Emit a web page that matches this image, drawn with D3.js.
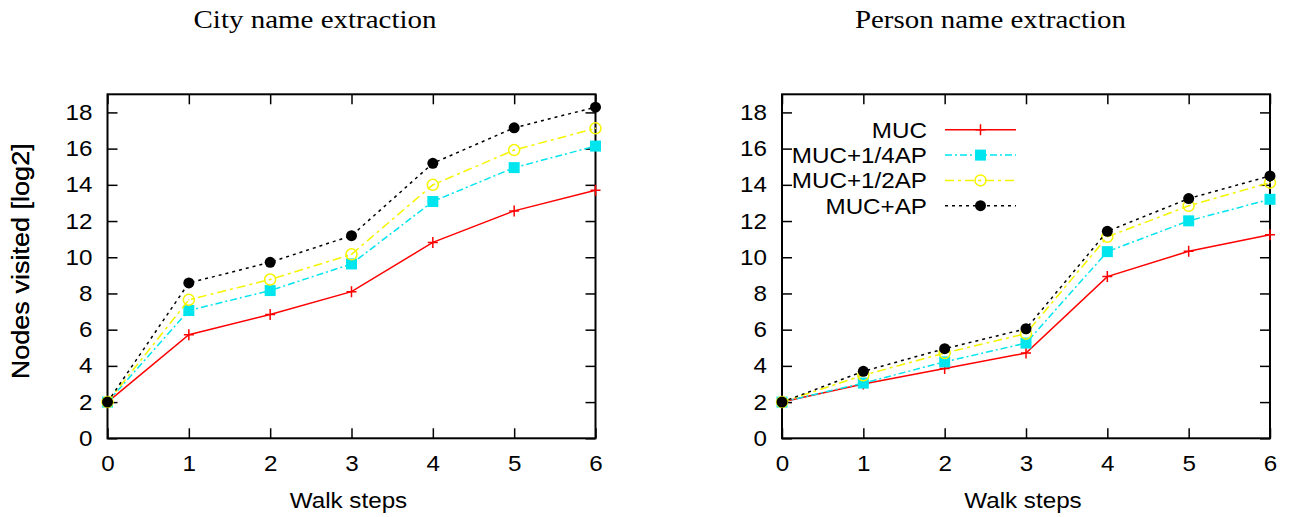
<!DOCTYPE html>
<html>
<head>
<meta charset="utf-8">
<script src="https://cdn.jsdelivr.net/npm/d3@7"></script>
<style>
  body { margin: 0; background: #fff; }
  text { fill: #000; }
</style>
</head>
<body>
<div id="chart"></div>
<script>
// DATA
const steps = [0, 1, 2, 3, 4, 5, 6];
const yTicks = [0, 2, 4, 6, 8, 10, 12, 14, 16, 18];
const seriesNames = ["MUC", "MUC+1/4AP", "MUC+1/2AP", "MUC+AP"];

const cityMUC = [2, 5.72, 6.84, 8.1, 10.82, 12.56, 13.7];
const cityQuarterAP = [2, 7.06, 8.16, 9.63, 13.08, 14.95, 16.14];
const cityHalfAP = [2, 7.65, 8.77, 10.16, 14.0, 15.92, 17.12];
const cityFullAP = [2, 8.58, 9.72, 11.19, 15.19, 17.15, 18.29];

const personMUC = [2, 3.0, 3.85, 4.71, 8.93, 10.33, 11.24];
const personQuarterAP = [2, 3.05, 4.22, 5.26, 10.31, 12.01, 13.2];
const personHalfAP = [2, 3.48, 4.71, 5.78, 11.13, 12.84, 14.12];
const personFullAP = [2, 3.7, 4.95, 6.05, 11.43, 13.24, 14.49];

// STYLES PER SERIES
const styles = [
  { color: "#ff0000", dash: null, marker: "plus" },
  { color: "#00e5ee", dash: "7,3,2,3", marker: "square" },
  { color: "#f5f500", dash: "9,4,3,4", marker: "circle" },
  { color: "#000000", dash: "3,4", marker: "dot" }
];

const svgWidth = 1289;
const svgHeight = 517;
const width = 488;
const height = 344;
const font = "'Liberation Sans', Arial, sans-serif";
const stretch = 1.1; // sans text in the original is a bit wide

const svg = d3.select("#chart")
  .append("svg")
  .attr("width", svgWidth)
  .attr("height", svgHeight);

/**
 * WIDEN SANS TEXT (like the original's rendering)
 */
const widen = sel => {
  sel.each(function () {
    const len = this.getComputedTextLength();
    if (len > 0) {
      d3.select(this)
        .attr("textLength", len * stretch)
        .attr("lengthAdjust", "spacingAndGlyphs");
    }
  });
};

/**
 * DRAW A MARKER AT (x, y)
 */
const addMarker = (g, type, x, y, color) => {
  if (type === "plus") {
    g.append("path")
      .attr("d", `M${x - 5},${y}H${x + 5}M${x},${y - 5.5}V${y + 5.5}`)
      .attr("stroke", color)
      .attr("stroke-width", 1.5)
      .attr("fill", "none");
  } else if (type === "square") {
    g.append("rect")
      .attr("x", x - 5.5).attr("y", y - 5.5)
      .attr("width", 11).attr("height", 11)
      .attr("fill", color);
  } else if (type === "circle") {
    g.append("circle")
      .attr("cx", x).attr("cy", y).attr("r", 5.5)
      .attr("fill", "none")
      .attr("stroke", color)
      .attr("stroke-width", 1.5);
    g.append("circle")
      .attr("cx", x).attr("cy", y).attr("r", 0.8)
      .attr("fill", color);
  } else {
    g.append("circle")
      .attr("cx", x).attr("cy", y).attr("r", 5.5)
      .attr("fill", color);
  }
};

/**
 * RENDER ONE PANEL
 */
const renderPanel = (left, top, title, titleX, titleLen, seriesList, withLegend) => {
  const xScale = d3.scaleLinear().domain([0, 6]).range([0, width]);
  const yScale = d3.scaleLinear().domain([0, 19]).range([height, 0]);

  // TITLE (serif, stretched like the original)
  svg.append("text")
    .attr("x", titleX)
    .attr("y", 27.5)
    .attr("text-anchor", "middle")
    .attr("textLength", titleLen)
    .attr("lengthAdjust", "spacingAndGlyphs")
    .style("font-family", "'Liberation Serif', 'Times New Roman', serif")
    .style("font-size", "25px")
    .text(title);

  const g = svg.append("g").attr("transform", `translate(${left},${top})`);

  // AXES (inward ticks on all four sides)
  const axisStyle = sel => {
    sel.select(".domain").remove();
    sel.selectAll("line").attr("stroke", "#000").attr("stroke-width", 1.5);
    sel.selectAll("text")
      .style("font-family", font)
      .style("font-size", "22px")
      .attr("fill", "#000")
      .call(widen);
  };

  g.append("g")
    .attr("transform", `translate(0,${height})`)
    .call(d3.axisBottom(xScale).tickValues(steps).tickSize(-10).tickPadding(17).tickFormat(d3.format("d")))
    .call(axisStyle);
  g.append("g")
    .call(d3.axisTop(xScale).tickValues(steps).tickSize(-10).tickFormat(""))
    .call(axisStyle);
  g.append("g")
    .call(d3.axisLeft(yScale).tickValues(yTicks).tickSize(-10).tickPadding(15).tickFormat(d3.format("d")))
    .call(axisStyle);
  g.append("g")
    .attr("transform", `translate(${width},0)`)
    .call(d3.axisRight(yScale).tickValues(yTicks).tickSize(-10).tickFormat(""))
    .call(axisStyle);

  // BORDER
  g.append("rect")
    .attr("width", width)
    .attr("height", height)
    .attr("fill", "none")
    .attr("stroke", "#000")
    .attr("stroke-width", 2);

  // AXIS LABELS
  g.append("text")
    .attr("x", width / 2 - 3)
    .attr("y", height + 70)
    .attr("text-anchor", "middle")
    .style("font-family", font)
    .style("font-size", "22px")
    .text("Walk steps")
    .call(widen);

  g.append("text")
    .attr("transform", `translate(${-left + 29},${height / 2 - 5}) rotate(-90)`)
    .attr("text-anchor", "middle")
    .attr("textLength", 236)
    .attr("lengthAdjust", "spacingAndGlyphs")
    .style("font-family", font)
    .style("font-size", "23px")
    .text("Nodes visited [log2]");

  // LEGEND
  if (withLegend) {
    const legend = g.append("g").attr("class", "legend");
    seriesNames.forEach((name, i) => {
      const ly = 35.5 + i * 25.3;
      const st = styles[i];
      legend.append("text")
        .attr("x", 145)
        .attr("y", ly + 8)
        .attr("text-anchor", "end")
        .style("font-family", font)
        .style("font-size", "22px")
        .text(name)
        .call(widen);
      legend.append("line")
        .attr("x1", 163).attr("x2", 234)
        .attr("y1", ly).attr("y2", ly)
        .attr("stroke", st.color)
        .attr("stroke-width", 1.5)
        .attr("stroke-dasharray", st.dash);
      addMarker(legend, st.marker, 198.5, ly, st.color);
    });
  }

  // LINES AND MARKERS
  const line = d3.line()
    .x((d, i) => xScale(steps[i]))
    .y(d => yScale(d));

  seriesList.forEach((values, i) => {
    const st = styles[i];
    const sg = g.append("g").attr("class", "series");
    sg.append("path")
      .datum(values)
      .attr("d", line)
      .attr("fill", "none")
      .attr("stroke", st.color)
      .attr("stroke-width", 1.5)
      .attr("stroke-dasharray", st.dash);
    values.forEach((v, j) => {
      addMarker(sg, st.marker, xScale(steps[j]), yScale(v), st.color);
    });
  });
};

renderPanel(107.5, 94.3, "City name extraction", 315, 243,
  [cityMUC, cityQuarterAP, cityHalfAP, cityFullAP], false);
renderPanel(782, 94.3, "Person name extraction", 990.5, 271,
  [personMUC, personQuarterAP, personHalfAP, personFullAP], true);
</script>
</body>
</html>
